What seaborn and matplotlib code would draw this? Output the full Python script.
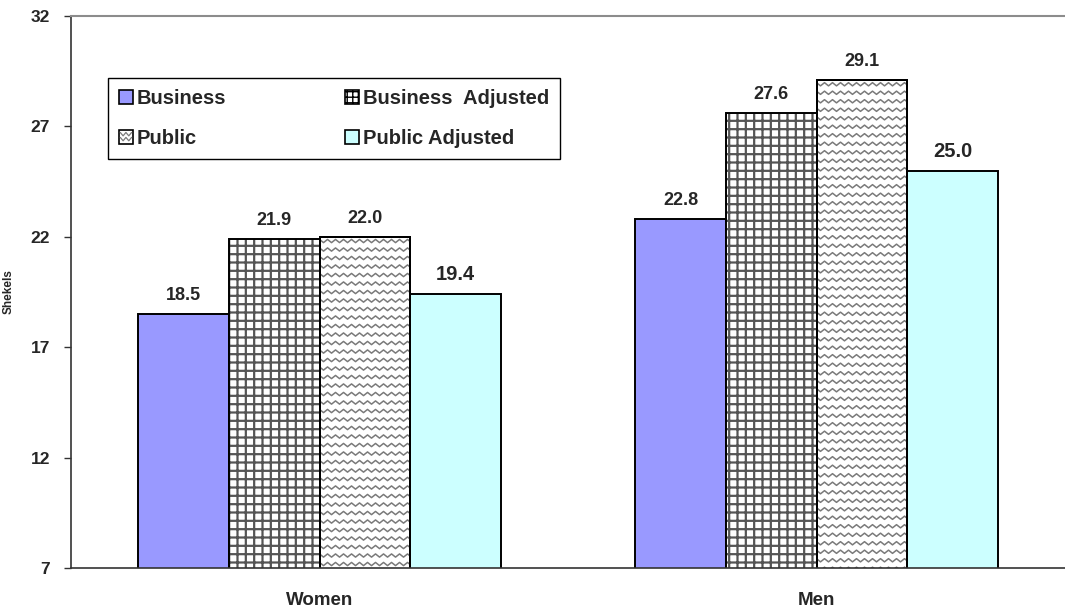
import numpy as np
import pandas as pd
import matplotlib
matplotlib.use("Agg")
import matplotlib.pyplot as plt
import seaborn as sns
from matplotlib.lines import Line2D
from matplotlib.patches import Rectangle
from matplotlib.transforms import IdentityTransform, Bbox
from matplotlib.legend_handler import HandlerBase

# Hourly wage by sector and sex (shekels)
groups = ["Women", "Men"]
series = ["Business", "Business  Adjusted", "Public", "Public Adjusted"]
business = [18.5, 22.8]
business_adjusted = [21.9, 27.6]
public = [22.0, 29.1]
public_adjusted = [19.4, 25.0]
y_ticks = [7, 12, 17, 22, 27, 32]

sns.set_style("white")
plt.rcParams["font.family"] = ["Liberation Sans", "DejaVu Sans"]
plt.rcParams["hatch.linewidth"] = 1.6

df = pd.DataFrame({
    "group": groups * 4,
    "series": sum([[s] * len(groups) for s in series], []),
    "value": business + business_adjusted + public + public_adjusted,
})

colors = ["#9999FF", "#FFFFFF", "#FFFFFF", "#CCFFFF"]

fig = plt.figure(figsize=(10.65, 6.1), dpi=100)
ax = fig.add_axes([0.0667, 0.0689, 0.9333, 0.9049])

sns.barplot(data=df, x="group", y="value", hue="series", hue_order=series,
            order=groups, palette=colors, width=0.73, saturation=1,
            edgecolor="black", linewidth=1.4, legend=False, ax=ax)

ax.set_ylim(7, 32)
ax.set_xlim(-0.5, 1.5)
ax.set_yticks(y_ticks)
ax.set_yticklabels([str(t) for t in y_ticks], fontweight="bold", fontsize=12.5)
ax.set_xticks(range(len(groups)))
ax.set_xticklabels(groups, fontweight="bold", fontsize=13.5)
ax.set_xticks([-0.5, 0.5, 1.5], minor=True)
ax.tick_params(axis="x", which="major", length=0, pad=17)
ax.tick_params(axis="x", which="minor", length=6, width=1, color="#333333", direction="out")
ax.tick_params(axis="y", length=5, width=1, color="#333333", direction="out", left=True, pad=10)
ax.set_xlabel("")
ax.set_ylabel("Shekels", fontweight="bold", fontsize=8.5)
ax.yaxis.set_label_coords(-0.057, 0.5)

for side in ["left", "bottom"]:
    ax.spines[side].set_color("#333333")
    ax.spines[side].set_linewidth(1.2)
ax.spines["top"].set_color("#8c8c8c")
ax.spines["top"].set_linewidth(1.5)
ax.spines["right"].set_visible(False)

containers = ax.containers
# grid hatch on adjusted business bars
for bar in containers[1]:
    bar.set_hatch("++")
    bar.set_edgecolor("black")
    bar._hatch_color = matplotlib.colors.to_rgba("#555555")

# value labels
for i, cont in enumerate(containers):
    size = 14.5 if i == 3 else 13
    ax.bar_label(cont, fmt="%.1f", padding=7, fontweight="bold", fontsize=size)

# wavy texture on public bars, built in pixel space and clipped to each bar
fig.canvas.draw()
period, amp, gap = 8.0, 1.6, 8.5
for bar in containers[2]:
    ext = bar.get_window_extent()
    clip = Bbox.intersection(ext, ax.bbox)
    xs = np.arange(ext.x0 - period, ext.x1 + period, period / 2)
    ys_off = np.where(np.arange(len(xs)) % 2 == 0, amp, -amp)
    yy = ext.y1 - gap / 2
    while yy > clip.y0 - gap:
        ln = Line2D(xs, yy + ys_off, transform=IdentityTransform(),
                    color="#7a7a7a", lw=1.1, zorder=bar.get_zorder() + 0.1)
        ax.add_artist(ln)
        ln.set_clip_path(None)
        ln.set_clip_box(clip)
        yy -= gap
    # redraw the outline on top of the texture
    outline = Rectangle(bar.get_xy(), bar.get_width(), bar.get_height(),
                        fill=False, edgecolor="black", lw=1.4,
                        zorder=bar.get_zorder() + 0.2)
    ax.add_patch(outline)


class WaveHandler(HandlerBase):
    def create_artists(self, legend, orig_handle, xdescent, ydescent,
                       width, height, fontsize, trans):
        rect = Rectangle((-xdescent, -ydescent), width, height,
                         facecolor="white", edgecolor="black", lw=1.2,
                         transform=trans)
        xs = np.linspace(-xdescent + 1, -xdescent + width - 1, 5)
        arts = [rect]
        for frac in (0.35, 0.7):
            ys = -ydescent + height * frac + np.array([1, -1, 1, -1, 1]) * height * 0.12
            arts.append(Line2D(xs, ys, color="#7a7a7a", lw=0.9, transform=trans))
        return arts


h_bus = Rectangle((0, 0), 1, 1, facecolor="#9999FF", edgecolor="black", lw=1.2)
h_badj = Rectangle((0, 0), 1, 1, facecolor="white", edgecolor="black", lw=1.2, hatch="+++")
h_pub = Rectangle((0, 0), 1, 1, facecolor="white", edgecolor="black")
h_padj = Rectangle((0, 0), 1, 1, facecolor="#CCFFFF", edgecolor="black", lw=1.2)

plt.rcParams["hatch.linewidth"] = 1.0
leg = ax.legend([h_bus, h_pub, h_badj, h_padj],
                [series[0], series[2], series[1], series[3]],
                handler_map={h_pub: WaveHandler()},
                ncol=2, loc="upper left", mode="expand",
                bbox_to_anchor=(0.037, 0.743, 0.455, 0.145),
                prop={"weight": "bold", "size": 14.5},
                handlelength=0.7, handleheight=0.7, handletextpad=0.2,
                labelspacing=1.05, borderpad=0.55, borderaxespad=0,
                frameon=True, fancybox=False, edgecolor="black", framealpha=1)
leg.get_frame().set_linewidth(1.0)

fig.savefig("out.png", dpi=100)
